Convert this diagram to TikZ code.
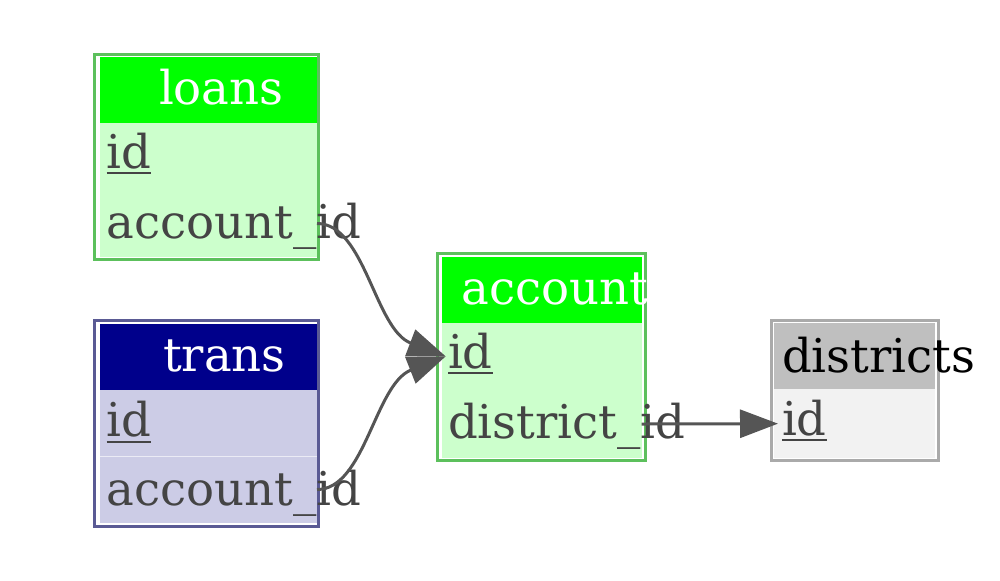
\documentclass[tikz,border=0pt]{standalone}
\usepackage{fontspec}
\setmainfont{DejaVu Serif}
\usetikzlibrary{arrows.meta}
\definecolor{grnborder}{HTML}{5CC05C}
\definecolor{grnhead}{HTML}{00FF00}
\definecolor{grnbody}{HTML}{CCFFCC}
\definecolor{navyhead}{HTML}{00008B}
\definecolor{navybody}{HTML}{CCCCE6}
\definecolor{navyborder}{HTML}{5A5A94}
\definecolor{grayhead}{HTML}{BFBFBF}
\definecolor{graybody}{HTML}{F2F2F2}
\definecolor{grayborder}{HTML}{AAAAAA}
\definecolor{txt}{HTML}{444444}
\definecolor{edgec}{HTML}{555555}
\begin{document}
\begin{tikzpicture}[x=0.5pt,y=-0.5pt,
 tbl/.style={draw, line width=1.5pt, fill=white, inner sep=0, outer sep=0, anchor=north west},
 cellbox/.style={inner sep=0, outer sep=0, anchor=north west, draw=none},
 lbl/.style={inner sep=0, outer sep=0, anchor=base west, font=\fontsize{23.3}{28}\selectfont, text=txt},
 hlbl/.style={lbl, text=white},
 uline/.style={draw=txt, line width=1pt},
 fk/.style={draw=edgec, line width=1.5pt, -{Triangle[length=19pt,width=14pt]}}
]
\useasboundingbox (0,0) rectangle (1000,580);

% ---------- loans ----------
\node[tbl, draw=grnborder, minimum width=112pt, minimum height=102.75pt] (loans) at (94.5,54) {};
\node[cellbox, fill=grnhead, minimum width=108.5pt, minimum height=33pt] (lh) at (100,57) {};
\node[cellbox, fill=grnbody, minimum width=108.5pt, minimum height=33.5pt] (lid) at (100,123) {};
\node[cellbox, fill=grnbody, minimum width=108.5pt, minimum height=33.5pt] (lacc) at (100,190) {};
\node[hlbl] (lht) at (159,104) {loans};
\node[lbl] (lidt) at (106.7,168) {id};
\node[lbl] (lacct) at (106.7,238) {account\_id};
\draw[uline] ([yshift=-2.5pt]lidt.base west) -- ([yshift=-2.5pt]lidt.base east);

% ---------- trans ----------
\node[tbl, draw=navyborder, minimum width=112pt, minimum height=102.75pt] (trans) at (94.5,320.5) {};
\node[cellbox, fill=navyhead, minimum width=108.5pt, minimum height=33.25pt] (th) at (100,323.5) {};
\node[cellbox, fill=navybody, minimum width=108.5pt, minimum height=33pt] (tid) at (100,390) {};
\node[cellbox, fill=navybody, minimum width=108.5pt, minimum height=33.5pt] (tacc) at (100,456) {};
\draw[white!60!navybody, line width=0.5pt] (tid.south west) -- (tid.south east);
\node[hlbl] (tht) at (163,371.7) {trans};
\node[lbl] (tidt) at (106.7,436.7) {id};
\node[lbl] (tacct) at (106.7,505) {account\_id};
\draw[uline] ([yshift=-2.5pt]tidt.base west) -- ([yshift=-2.5pt]tidt.base east);

% ---------- account ----------
\node[tbl, draw=grnborder, minimum width=103.75pt, minimum height=103.25pt] (account) at (437.5,253.5) {};
\node[cellbox, fill=grnhead, minimum width=100pt, minimum height=33pt] (ah) at (441.7,256.7) {};
\node[cellbox, fill=grnbody, minimum width=100pt, minimum height=33.65pt] (aid) at (441.7,322.7) {};
\node[cellbox, fill=grnbody, minimum width=100pt, minimum height=34pt] (adid) at (441.7,390) {};
\node[hlbl] (aht) at (461.7,304) {account};
\node[lbl] (aidt) at (448,368) {id};
\node[lbl] (adidt) at (448,438) {district\_id};
\draw[uline] ([yshift=-2.5pt]aidt.base west) -- ([yshift=-2.5pt]aidt.base east);

% ---------- districts ----------
\node[tbl, draw=grayborder, minimum width=83.5pt, minimum height=70pt] (districts) at (771.5,320) {};
\node[cellbox, fill=grayhead, minimum width=80.5pt, minimum height=33.3pt] (dh) at (774,322.7) {};
\node[cellbox, fill=graybody, minimum width=80.5pt, minimum height=34.35pt] (did) at (774,389.3) {};
\node[lbl, text=black] (dht) at (782,372.7) {districts};
\node[lbl] (didt) at (782,435) {id};
\draw[uline] ([yshift=-2.5pt]didt.base west) -- ([yshift=-2.5pt]didt.base east);

% ---------- connectors ----------
\draw[fk] (lacc.east) .. controls +(48,0) and +(-71,-27) .. ([xshift=2pt]aid.west);
\draw[fk] (tacc.east) .. controls +(48,0) and +(-71,28) .. ([xshift=2pt]aid.west);
\draw[fk] (adid.east) -- ([xshift=2pt]did.west);
\end{tikzpicture}
\end{document}
